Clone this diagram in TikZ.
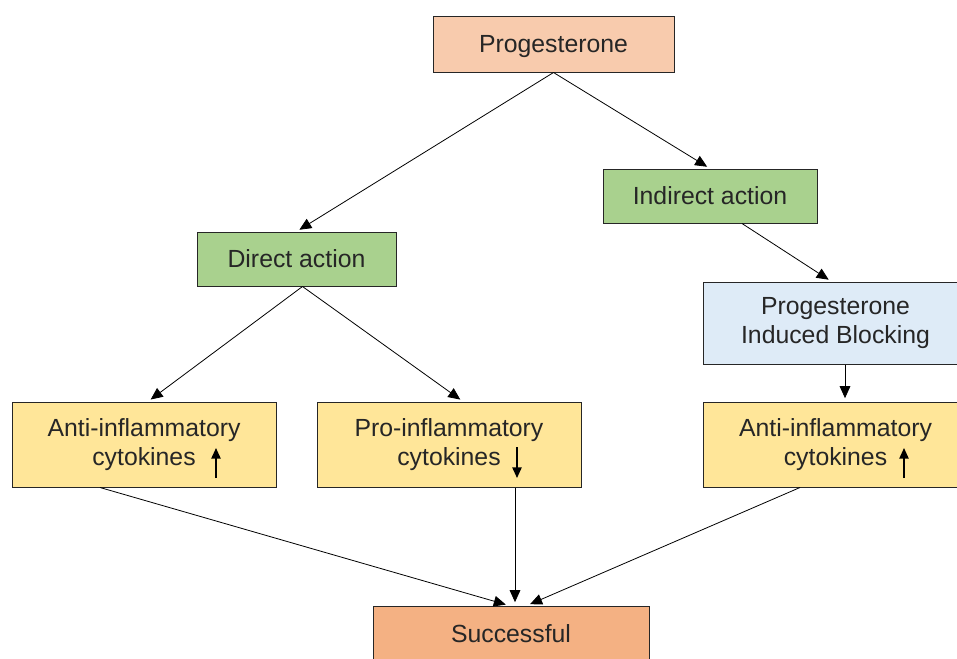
\documentclass[tikz,border=0pt]{standalone}
\usepackage{fontspec}
\setmainfont{Liberation Sans}
\usetikzlibrary{arrows.meta, calc}
\definecolor{progpeach}{RGB}{248,203,173}
\definecolor{actgreen}{RGB}{169,209,142}
\definecolor{blockblue}{RGB}{222,235,247}
\definecolor{cytoyellow}{RGB}{255,230,153}
\definecolor{outcomeorange}{RGB}{244,177,131}
\definecolor{inkgray}{RGB}{38,38,38}

\begin{document}
\begin{tikzpicture}[
  x=0.75pt, y=-0.75pt,
  font=\fontsize{18.6}{22.2}\selectfont,
  box/.style={draw=black!85, line width=0.75pt, inner sep=0pt, align=center, text=inkgray},
  hormone/.style={box, fill=progpeach, minimum width=180.75pt, minimum height=42pt, text depth=0pt},
  action/.style={box, fill=actgreen, minimum height=40.5pt},
  blocking/.style={box, fill=blockblue, minimum width=198.75pt, minimum height=61.5pt},
  cyto/.style={box, fill=cytoyellow, minimum width=198pt, minimum height=63.75pt},
  outcome/.style={box, fill=outcomeorange, minimum width=207pt, minimum height=42pt},
  link/.style={-{Triangle[length=9pt,width=8pt]}, line width=0.6pt, shorten >=2.5pt},
  trend/.style={-{Triangle[length=8pt,width=7pt]}, line width=1.1pt}
]
  \useasboundingbox (0,0) rectangle (957,658);
  % boxes
  \node[hormone] (prog) at (553.5,44) {Progesterone};
  \node[action, minimum width=160.5pt] (indirect) at (710,196) {Indirect action};
  \node[action, minimum width=149.25pt] (direct) at (296.5,259) {Direct action};
  \node[blocking] (block) at (835.5,323) {Progesterone\\Induced Blocking};
  \node[cyto] (antiL) at (144,444.5) {Anti-inflammatory\\cytokines};
  \node[cyto] (pro) at (449,444.5) {Pro-inflammatory\\cytokines};
  \node[cyto] (antiR) at (835.5,444.5) {Anti-inflammatory\\cytokines};
  \node[outcome] (success) at (511,634) {Successful};
  % up / down marks
  \draw[trend] ($(antiL.center)+(72,33.5)$) -- ($(antiL.center)+(72,3.5)$);
  \draw[trend] ($(pro.center)+(68,2.5)$) -- ($(pro.center)+(68,33.5)$);
  \draw[trend] ($(antiR.center)+(68.5,33.5)$) -- ($(antiR.center)+(68.5,3.5)$);
  % connectors
  \draw[link] (prog.south) -- (direct.north);
  \draw[link] (prog.south) -- (indirect.north);
  \draw[link] ($(direct.south)+(6,0)$) -- ($(antiL.north)+(4,0)$);
  \draw[link] ($(direct.south)+(6,0)$) -- ($(pro.north)+(14,0)$);
  \draw[link] ($(indirect.south)+(32,0)$) -- ($(block.north)+(-4,0)$);
  \draw[link] ($(block.south)+(9.5,0)$) -- ($(antiR.north)+(9.5,0)$);
  \draw[link] ($(antiL.south)+(-44,0)$) -- ($(success.north)+(-2,0)$);
  \draw[link] ($(pro.south)+(66,0)$) -- ($(success.north)+(4,0)$);
  \draw[link] ($(antiR.south)+(-35.5,0)$) -- ($(success.north)+(16,0)$);
\end{tikzpicture}
\end{document}
